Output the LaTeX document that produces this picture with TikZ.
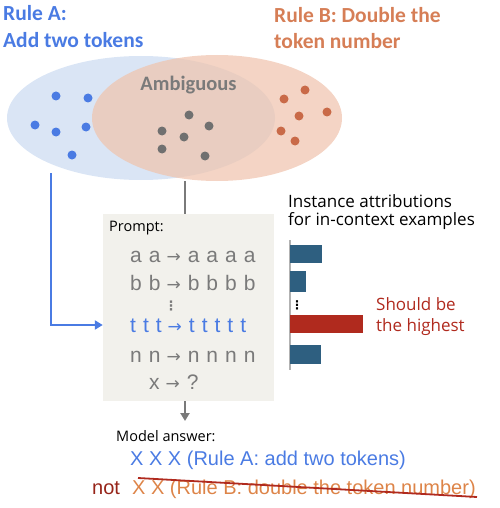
\documentclass[tikz,border=0pt]{standalone}
\usepackage{fontspec}
\setmainfont{Liberation Sans}
\newfontfamily\carl{Carlito}
\newfontfamily\osans{Open Sans}
\newfontfamily\dejavu{DejaVu Sans}
\newfontfamily\exfont[WordSpace=1.2]{Liberation Sans}
\usetikzlibrary{shapes.geometric,arrows.meta}
\definecolor{rulea}{HTML}{4A7BE3}
\definecolor{ruleb}{HTML}{D67E56}
\definecolor{fillA}{HTML}{DAE5F5}
\definecolor{fillB}{HTML}{F0C4AE}
\definecolor{dotB}{HTML}{C96A48}
\definecolor{grayt}{HTML}{7A7A7A}
\definecolor{dotG}{HTML}{707070}
\definecolor{boxfill}{HTML}{F2F1EC}
\definecolor{bar}{HTML}{2E5F80}
\definecolor{redb}{HTML}{B02A1E}
\definecolor{ansorange}{HTML}{DD8448}
\newcommand{\myarr}{\hspace{6pt}{\dejavu\fontsize{17}{17}\selectfont →}\hspace{7pt}}
\tikzset{
  lbl/.style={inner sep=0pt, anchor=base west},
  dotA/.style={circle, fill=rulea, inner sep=0pt, minimum size=9pt},
  dotb/.style={circle, fill=dotB, inner sep=0pt, minimum size=9pt},
  dotg/.style={circle, fill=dotG, inner sep=0pt, minimum size=9pt},
  title/.style={lbl, font=\carl\bfseries\fontsize{21.5}{24}\selectfont},
  exline/.style={lbl, font=\exfont\fontsize{21}{24}\selectfont, text=grayt},
  note/.style={lbl, font=\osans\fontsize{17}{19}\selectfont},
  small/.style={lbl, font=\osans\fontsize{14.5}{16}\selectfont},
  ans/.style={lbl, font=\fontsize{20}{23}\selectfont},
  vdots/.style={inner sep=0pt, anchor=base, font=\dejavu\bfseries\fontsize{13}{15}\selectfont},
}
\begin{document}
\begin{tikzpicture}[x=1pt,y=-1pt]
\useasboundingbox (0,0) rectangle (499,508);
% ellipses
\node[ellipse, fill=fillA, minimum width=268pt, minimum height=124pt, inner sep=0pt] (setA) at (141,118) {};
\node[ellipse, fill=fillB, fill opacity=0.72, minimum width=250pt, minimum height=126pt, inner sep=0pt] (setB) at (217,118) {};
% titles
\node[title, text=rulea] (ta1) at (3,21) {Rule A:};
\node[title, text=rulea] (ta2) at (3,48) {Add two tokens};
\node[title, text=ruleb] (tb1) at (274,23) {Rule B: Double the};
\node[title, text=ruleb] (tb2) at (274,49) {token number};
\node[inner sep=0pt, anchor=base, font=\carl\bfseries\fontsize{20.5}{23}\selectfont, text=grayt] (amb) at (188.5,91) {Ambiguous};
% dots
\foreach \p [count=\i] in {(56,96),(88,98),(35,125),(56,132),(86,127),(72,155)} \node[dotA] (a\i) at \p {};
\foreach \p [count=\i] in {(189,115),(209,126),(162,131),(184,137),(162,149),(205,156)} \node[dotg] (g\i) at \p {};
\foreach \p [count=\i] in {(305,90),(284,99),(299,116),(327,112),(281,131),(295,141)} \node[dotb] (b\i) at \p {};
% prompt box
\node[fill=boxfill, minimum width=171pt, minimum height=187pt, inner sep=0pt] (box) at (188.5,307.5) {};
\node[small] (prompt) at (109,231) {Prompt:};
\node[exline] (l1) at (130,262) {a a\myarr a a a a};
\node[exline] (l2) at (130,290) {b b\myarr b b b b};
\node[vdots, text=grayt] (vd1) at (171,310) {⋮};
\node[exline, text=rulea] (l3) at (130,332) {t t t\myarr t t t t t};
\node[exline] (l4) at (130,362) {n n\myarr n n n n};
\node[exline] (l5) at (149,389) {x\myarr ?};
% connectors
\coordinate (astart) at (51,173);
\draw[rulea, line width=2.2pt, -{Triangle[length=8pt,width=9pt]}] (astart) -- (51,325) -- (box.west |- 0,325);
\coordinate (gstart) at (185,181);
\draw[grayt, line width=2pt] (gstart) -- (box.north -| gstart);
\coordinate (ansarrow) at (185,421);
\draw[grayt, line width=2pt, -{Triangle[length=8pt,width=9pt]}] (box.south -| ansarrow) -- (ansarrow);
% attribution header
\node[note] (ia1) at (288,207) {Instance attributions};
\node[note] (ia2) at (288,225) {for in-context examples};
% bars
\coordinate (axtop) at (290,240);
\coordinate (axbot) at (290,370);
\draw[gray!60, line width=1.8pt] (axtop) -- (axbot);
\fill[bar] (290,245) rectangle (322,263);
\fill[bar] (290,271) rectangle (306,292);
\node[vdots, font=\dejavu\bfseries\fontsize{12}{14}\selectfont] (vd2) at (297,309) {⋮};
\fill[redb] (290,315) rectangle (363,333);
\fill[bar] (290,345) rectangle (321,364);
\node[note, text=redb] (sb1) at (376,310) {Should be};
\node[note, text=redb] (sb2) at (376,331) {the highest};
% answer
\node[small] (ma) at (116,441) {Model answer:};
\node[ans, text=rulea] (ansA) at (130,465) {X X X (Rule A: add two tokens)};
\node[ans, text=redb!85!black] (notw) at (92,494) {not};
\node[ans, text=ansorange] (ansB) at (132,494) {X X (Rule B: double the token number)};
\coordinate (s1) at (138,478);
\coordinate (s2) at (477,497);
\draw[redb, line width=1.8pt] (s1) -- (s2);
\end{tikzpicture}
\end{document}
